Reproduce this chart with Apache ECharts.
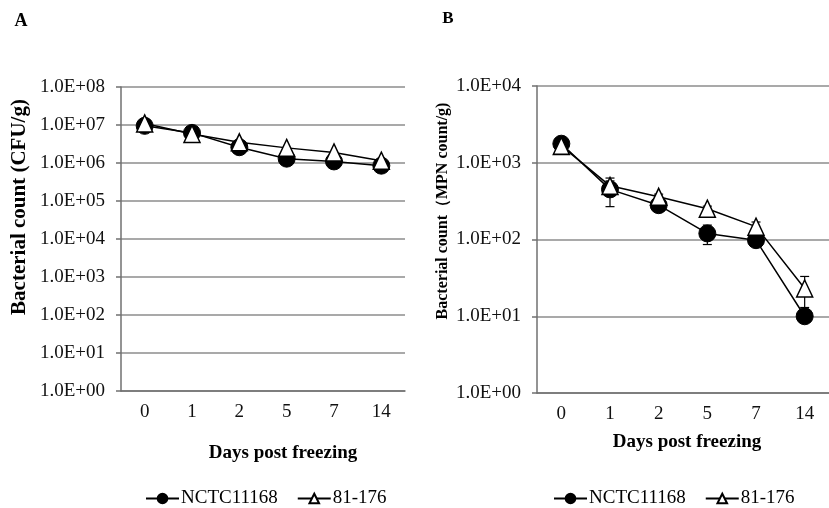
<!DOCTYPE html>
<html>
<head>
<meta charset="utf-8">
<script src="https://cdn.jsdelivr.net/npm/echarts@6/dist/echarts.min.js"></script>
<style>
  html, body { margin: 0; padding: 0; background: #fff; }
  #chart { width: 829px; height: 508px; }
</style>
</head>
<body>
<div id="chart"></div>
<script>
// days post freezing
var days = ['0', '1', '2', '5', '7', '14'];

// panel A, CFU/g
var cfuNctc = [9.5e6, 6.2e6, 2.6e6, 1.3e6, 1.1e6, 8.5e5];
var cfu81 = [1.1e7, 5.8e6, 3.5e6, 2.5e6, 1.9e6, 1.15e6];

// panel B, MPN count/g
var mpnNctc = [1770, 450, 280, 120, 98, 10];
var mpn81 = [1660, 500, 360, 252, 147, 23];
// +/- error for panel B
var mpnNctcErr = [0, 182, 20, 34, 5, 0];
var mpn81Err = [0, 80, 30, 20, 22, 10];

var FONT = 'Liberation Serif, Times New Roman, serif';

function expLabel(v) {
  var e = Math.round(Math.log(v) / Math.LN10);
  return '1.0E+' + (e < 10 ? '0' + e : e);
}

function yAxisOpt(idx, max) {
  return {
    type: 'log', logBase: 10, gridIndex: idx, min: 1, max: max, interval: 1,
    axisLine: { show: true, lineStyle: { color: '#707070', width: 1.5 } },
    axisTick: { show: true, length: 5, lineStyle: { color: '#707070', width: 1.5 } },
    splitLine: { show: true, lineStyle: { color: '#8c8c8c', width: 1.5 } },
    minorTick: { show: false },
    axisLabel: { formatter: expLabel, margin: 16, color: '#111', fontFamily: FONT, fontSize: 19 }
  };
}

function xAxisOpt(idx) {
  return {
    type: 'category', gridIndex: idx, data: days, boundaryGap: true,
    axisLine: { show: true, lineStyle: { color: '#707070', width: 1.5 } },
    axisTick: { show: false },
    splitLine: { show: false },
    axisLabel: { margin: 12, color: '#111', fontFamily: FONT, fontSize: 19 }
  };
}

function circleSeries(idx, data) {
  return {
    name: 'NCTC11168', type: 'line', xAxisIndex: idx, yAxisIndex: idx,
    data: data, symbol: 'circle', symbolSize: 17, z: 3,
    lineStyle: { color: '#000', width: 1.5 },
    itemStyle: { color: '#000', borderColor: '#000', borderWidth: 1 },
    animation: false
  };
}

function triSeries(idx, data) {
  return {
    name: '81-176', type: 'line', xAxisIndex: idx, yAxisIndex: idx,
    data: data, symbol: 'triangle', symbolSize: [16, 17], z: 4,
    lineStyle: { color: '#000', width: 1.5 },
    itemStyle: { color: '#fff', borderColor: '#000', borderWidth: 1.5 },
    animation: false
  };
}

function errSeries(idx, vals, errs) {
  var d = [];
  for (var i = 0; i < vals.length; i++) {
    if (errs[i] > 0) d.push([i, vals[i] - errs[i], vals[i] + errs[i]]);
  }
  return {
    type: 'custom', xAxisIndex: idx, yAxisIndex: idx, z: 2, silent: true,
    data: d, animation: false,
    renderItem: function (params, api) {
      var lo = api.coord([api.value(0), api.value(1)]);
      var hi = api.coord([api.value(0), api.value(2)]);
      var w = 4.5;
      var st = { stroke: '#000', lineWidth: 1.2 };
      return {
        type: 'group',
        children: [
          { type: 'line', shape: { x1: lo[0], y1: lo[1], x2: hi[0], y2: hi[1] }, style: st },
          { type: 'line', shape: { x1: lo[0] - w, y1: lo[1], x2: lo[0] + w, y2: lo[1] }, style: st },
          { type: 'line', shape: { x1: hi[0] - w, y1: hi[1], x2: hi[0] + w, y2: hi[1] }, style: st }
        ]
      };
    }
  };
}

function legendOpt(left) {
  return {
    left: left, top: 489, padding: 0, data: ['NCTC11168', '81-176'],
    itemWidth: 33, itemHeight: 12, itemGap: 19,
    textStyle: { color: '#000', fontFamily: FONT, fontSize: 19, padding: [0, 0, 0, -3] }
  };
}

function label(text, x, y, size, rot) {
  return {
    type: 'text', x: x, y: y, rotation: rot || 0,
    style: {
      text: text, fill: '#000', font: 'bold ' + size + 'px ' + FONT,
      align: 'center', verticalAlign: 'middle'
    }
  };
}

var chart = echarts.init(document.getElementById('chart'));
chart.setOption({
  backgroundColor: '#fff',
  animation: false,
  grid: [
    { left: 121, top: 87, width: 284, height: 304 },
    { left: 537, top: 86, width: 300, height: 307 }
  ],
  xAxis: [xAxisOpt(0), xAxisOpt(1)],
  yAxis: [yAxisOpt(0, 1e8), yAxisOpt(1, 1e4)],
  legend: [legendOpt(145), legendOpt(553)],
  series: [
    circleSeries(0, cfuNctc),
    triSeries(0, cfu81),
    errSeries(1, mpnNctc, mpnNctcErr),
    errSeries(1, mpn81, mpn81Err),
    circleSeries(1, mpnNctc),
    triSeries(1, mpn81)
  ],
  graphic: [
    label('A', 21, 21, 18),
    label('B', 448, 19, 17),
    label('Bacterial count (CFU/g)', 20, 207, 21, Math.PI / 2),
    label('Bacterial count\uFF08MPN count/g)', 443, 211, 16, Math.PI / 2),
    label('Days post freezing', 283, 453, 19),
    label('Days post freezing', 687, 442, 19)
  ]
});
</script>
</body>
</html>
